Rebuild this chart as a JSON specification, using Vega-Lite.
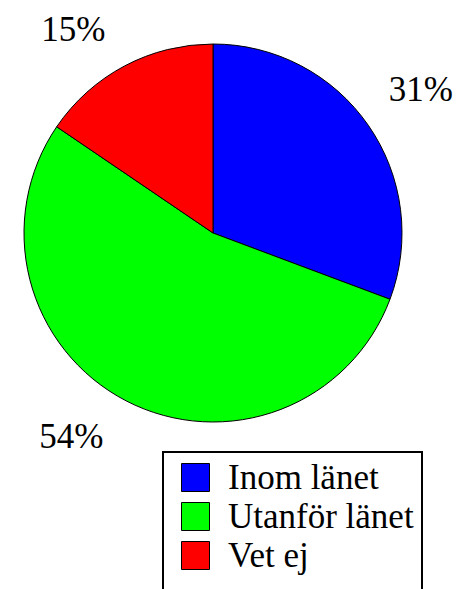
{
  "$schema": "https://vega.github.io/schema/vega-lite/v6.json",
  "width": 426,
  "height": 466,
  "padding": 0,
  "autosize": {"type": "pad"},
  "background": "white",
  "config": {"view": {"stroke": null}},
  "data": {
    "values": [
      {"cat": "Inom länet", "value": 30.7, "label": "31%"},
      {"cat": "Utanför länet", "value": 53.8, "label": "54%"},
      {"cat": "Vet ej", "value": 15.5, "label": "15%"}
    ]
  },
  "encoding": {
    "theta": {"field": "value", "type": "quantitative", "stack": true},
    "order": {"field": "cat", "type": "ordinal"}
  },
  "layer": [
    {
      "mark": {"type": "arc", "outerRadius": 189, "stroke": "black", "strokeWidth": 1},
      "encoding": {
        "color": {
          "field": "cat",
          "type": "nominal",
          "scale": {"domain": ["Inom länet", "Utanför länet", "Vet ej"], "range": ["#0000ff", "#00ff00", "#ff0000"]},
          "legend": {
            "orient": "none",
            "legendX": 163,
            "legendY": 452,
            "title": " ",
            "titleOrient": "bottom",
            "titleFontSize": 20,
            "titlePadding": 10,
            "strokeColor": "black",
            "padding": 8,
            "symbolType": "square",
            "symbolSize": 784,
            "symbolStrokeColor": "black",
            "symbolStrokeWidth": 1,
            "symbolOpacity": 1,
            "symbolOffset": 7,
            "labelFont": "Liberation Serif",
            "labelFontSize": 35,
            "labelColor": "black",
            "labelOffset": 15,
            "rowPadding": 3,
            "labelLimit": 400,
            "encode": {"legend": {"update": {"strokeWidth": {"value": 2}}}}
          }
        }
      }
    },
    {
      "mark": {"type": "text", "radius": 220, "font": "Liberation Serif", "fontSize": 35, "color": "black", "dx": 27, "dy": -18},
      "encoding": {
        "detail": {"field": "cat", "type": "nominal"},
        "text": {"condition": {"test": "datum.cat === 'Inom länet'", "field": "label"}, "value": ""}
      }
    },
    {
      "mark": {"type": "text", "radius": 230, "font": "Liberation Serif", "fontSize": 35, "color": "black", "dx": -36, "dy": 0},
      "encoding": {
        "detail": {"field": "cat", "type": "nominal"},
        "text": {"condition": {"test": "datum.cat === 'Utanför länet'", "field": "label"}, "value": ""}
      }
    },
    {
      "mark": {"type": "text", "radius": 230, "font": "Liberation Serif", "fontSize": 35, "color": "black", "dx": -32, "dy": 0},
      "encoding": {
        "detail": {"field": "cat", "type": "nominal"},
        "text": {"condition": {"test": "datum.cat === 'Vet ej'", "field": "label"}, "value": ""}
      }
    }
  ]
}
